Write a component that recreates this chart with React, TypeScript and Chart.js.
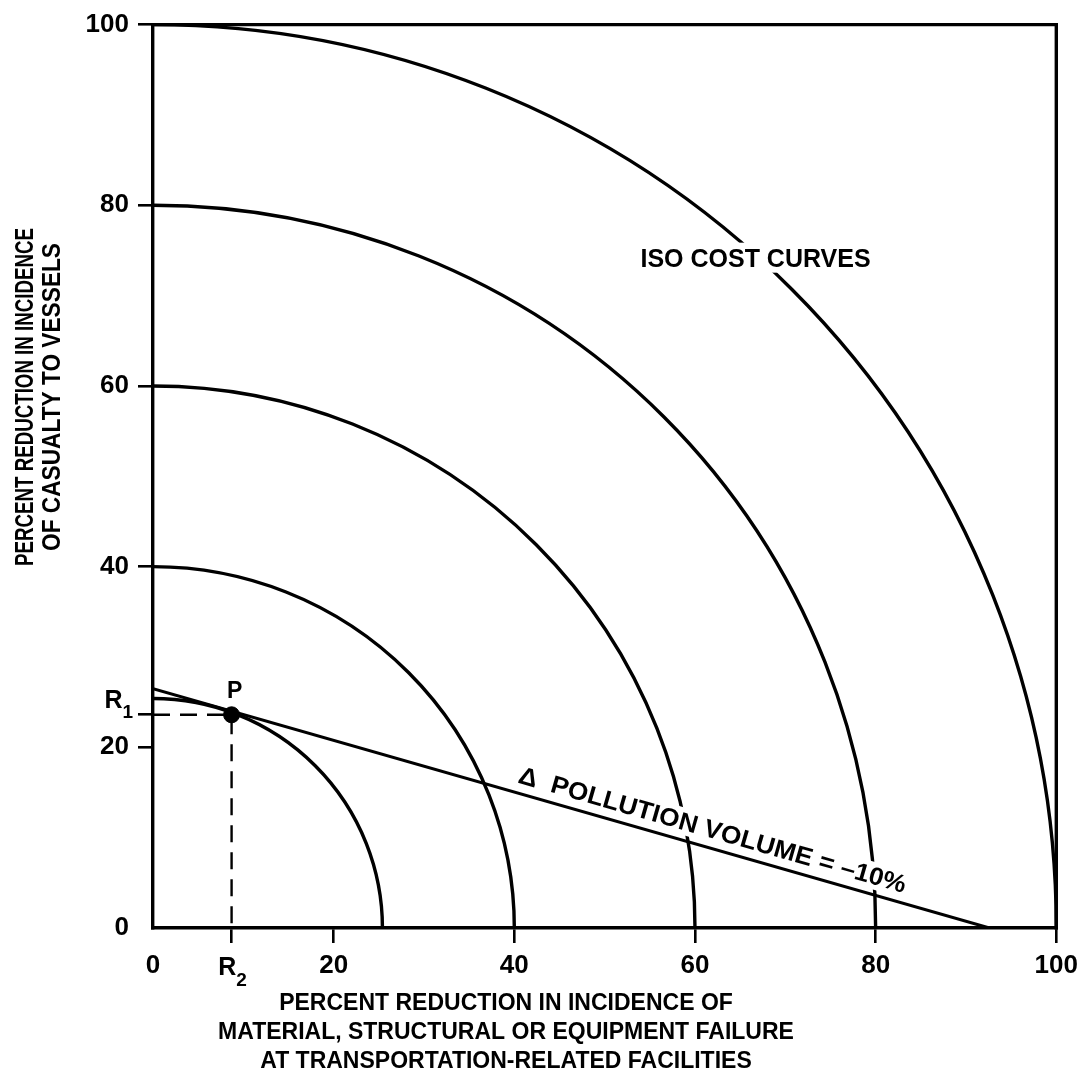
import React, { useEffect, useRef } from 'react';
import { Chart, registerables } from 'chart.js';

Chart.register(...registerables);

// ---- data ----
const isoCostRadii = [25.4, 40, 60, 80, 100];
const pollutionLineX = [0, 92.6];
const pollutionLineY = [26.5, 0];
const R2 = 8.7; // x of point P
const R1 = 23.6; // y of point P
const xTickValues = [0, 20, 40, 60, 80, 100];
const yTickValues = [0, 20, 40, 60, 80, 100];
const xTitleLines = [
  'PERCENT REDUCTION IN INCIDENCE OF',
  'MATERIAL, STRUCTURAL OR EQUIPMENT FAILURE',
  'AT TRANSPORTATION-RELATED FACILITIES',
];
const yTitleLines = ['PERCENT REDUCTION IN INCIDENCE', 'OF CASUALTY TO VESSELS'];
const curveLabel = 'ISO COST CURVES';
const lineLabel = 'Δ  POLLUTION VOLUME = –10%';
const pointLabel = 'P';

// ---- style / layout ----
const FONT = '"Liberation Sans", Arial, Helvetica, sans-serif';
const W = 1085;
const H = 1083;
const PLOT_LEFT = 153;
const PLOT_TOP = 24;
const PLOT_RIGHT = 1057;
const PLOT_BOTTOM = 928;

function drawText(ctx: CanvasRenderingContext2D, text: string, x: number, y: number, font: string, align: CanvasTextAlign, targetWidth?: number) {
  ctx.save();
  ctx.font = font;
  ctx.textAlign = 'left';
  ctx.textBaseline = 'alphabetic';
  const w = ctx.measureText(text).width;
  const sx = targetWidth ? targetWidth / w : 1;
  const drawnW = w * sx;
  let left = x;
  if (align === 'center') left = x - drawnW / 2;
  else if (align === 'right') left = x - drawnW;
  ctx.translate(left, y);
  ctx.scale(sx, 1);
  ctx.fillText(text, 0, 0);
  ctx.restore();
}

const overlayPlugin = {
  id: 'overlay',
  beforeDatasetsDraw(chart: any) {
    const { ctx, chartArea: a, scales } = chart;
    const x = scales.x;
    const y = scales.y;
    const cx = x.getPixelForValue(0);
    const cy = y.getPixelForValue(0);
    ctx.save();
    ctx.strokeStyle = '#000';
    ctx.lineWidth = 3.4;
    for (const r of isoCostRadii) {
      const rx = x.getPixelForValue(r) - cx;
      const ry = cy - y.getPixelForValue(r);
      ctx.beginPath();
      ctx.ellipse(cx, cy, rx, ry, 0, -Math.PI / 2, 0);
      ctx.stroke();
    }
    // frame: top and right
    ctx.lineWidth = 3.4;
    ctx.beginPath();
    ctx.moveTo(a.left - 1.7, a.top);
    ctx.lineTo(a.right, a.top);
    ctx.lineTo(a.right, a.bottom + 1.7);
    ctx.stroke();
    ctx.restore();
  },
  afterDatasetsDraw(chart: any) {
    const { ctx, scales } = chart;
    const x = scales.x;
    const y = scales.y;
    ctx.save();
    ctx.fillStyle = '#000';

    // ISO COST CURVES label with white background
    {
      const px = x.getPixelForValue(66.7);
      const py = y.getPixelForValue(74.2);
      ctx.font = `bold 25px ${FONT}`;
      const w = ctx.measureText(curveLabel).width;
      ctx.fillStyle = '#fff';
      ctx.fillRect(px - w / 2 - 4, py - 15, w + 8, 30);
      ctx.fillStyle = '#000';
      drawText(ctx, curveLabel, px, py + 9, `bold 25px ${FONT}`, 'center');
    }

    // Pollution line label, rotated along the line
    {
      const x0 = x.getPixelForValue(pollutionLineX[0]);
      const y0 = y.getPixelForValue(pollutionLineY[0]);
      const x1 = x.getPixelForValue(pollutionLineX[1]);
      const y1 = y.getPixelForValue(pollutionLineY[1]);
      const ang = Math.atan2(y1 - y0, x1 - x0);
      const sx = x.getPixelForValue(40);
      const t = (sx - x0) / (x1 - x0);
      const sy = y0 + t * (y1 - y0);
      ctx.save();
      ctx.translate(sx, sy);
      ctx.rotate(ang);
      const font = `bold 25px ${FONT}`;
      ctx.font = font;
      const target = 402;
      ctx.fillStyle = '#fff';
      ctx.fillRect(-4, -32, target + 8, 27);
      ctx.fillStyle = '#000';
      drawText(ctx, lineLabel, 0, -10, font, 'left', target);
      ctx.restore();
    }

    // P label
    drawText(ctx, pointLabel, x.getPixelForValue(R2) + 3, y.getPixelForValue(R1) - 17, `bold 23px ${FONT}`, 'center');

    // R1 label (left of y axis)
    {
      const ty = y.getPixelForValue(R1);
      ctx.font = `bold 25px ${FONT}`;
      const wR = ctx.measureText('R').width;
      ctx.font = `bold 19px ${FONT}`;
      const w1 = ctx.measureText('1').width;
      const right = PLOT_LEFT - 20;
      drawText(ctx, 'R', right - w1 - wR, ty - 7, `bold 25px ${FONT}`, 'left');
      drawText(ctx, '1', right - w1, ty + 3, `bold 19px ${FONT}`, 'left');
    }
    // R2 label (below x axis)
    {
      const tx = x.getPixelForValue(R2);
      ctx.font = `bold 25px ${FONT}`;
      const wR = ctx.measureText('R').width;
      ctx.font = `bold 19px ${FONT}`;
      const w2 = ctx.measureText('2').width;
      const left = tx - (wR + w2) / 2 + 1;
      drawText(ctx, 'R', left, 975, `bold 25px ${FONT}`, 'left');
      drawText(ctx, '2', left + wR, 986, `bold 19px ${FONT}`, 'left');
    }

    // X axis title
    const xc = 506;
    drawText(ctx, xTitleLines[0], xc, 1010, `bold 23px ${FONT}`, 'center');
    drawText(ctx, xTitleLines[1], xc, 1039, `bold 23px ${FONT}`, 'center');
    drawText(ctx, xTitleLines[2], xc, 1068, `bold 23px ${FONT}`, 'center');

    // Y axis title (rotated)
    ctx.save();
    ctx.rotate(-Math.PI / 2);
    drawText(ctx, yTitleLines[0], -397, 33, `bold 25px ${FONT}`, 'center', 338);
    drawText(ctx, yTitleLines[1], -397, 60, `bold 25px ${FONT}`, 'center', 308);
    ctx.restore();

    ctx.restore();
  },
};

export default function App() {
  const canvasRef = useRef<HTMLCanvasElement | null>(null);

  useEffect(() => {
    const canvas = canvasRef.current;
    if (!canvas) return;
    const black = '#000';
    const chart = new Chart(canvas, {
      type: 'scatter',
      data: {
        datasets: [
          {
            label: 'pollution',
            data: pollutionLineX.map((v, i) => ({ x: v, y: pollutionLineY[i] })),
            showLine: true,
            borderColor: black,
            borderWidth: 3,
            pointRadius: 0,
          },
          {
            label: 'dashed',
            data: [
              { x: 0, y: R1 },
              { x: R2, y: R1 },
              { x: R2, y: 0 },
            ],
            showLine: true,
            borderColor: black,
            borderWidth: 2.4,
            borderDash: [17, 10],
            pointRadius: 0,
          },
          {
            label: 'P',
            data: [{ x: R2, y: R1 }],
            pointRadius: 8,
            backgroundColor: black,
            borderColor: black,
          },
        ],
      },
      options: {
        responsive: false,
        animation: false,
        devicePixelRatio: 1,
        layout: { padding: { top: PLOT_TOP, right: W - PLOT_RIGHT, left: 0, bottom: 0 } },
        plugins: { legend: { display: false }, tooltip: { enabled: false } },
        scales: {
          x: {
            type: 'linear',
            min: 0,
            max: 100,
            afterFit: (s: any) => {
              s.height = H - PLOT_BOTTOM;
            },
            afterBuildTicks: (s: any) => {
              s.ticks = [...xTickValues, R2].sort((a, b) => a - b).map((v) => ({ value: v }));
            },
            border: { display: true, color: black, width: 3.4 },
            grid: {
              drawOnChartArea: false,
              drawTicks: true,
              tickLength: 15,
              lineWidth: 2.6,
              color: (c: any) => (c.tick && c.tick.value === 0 ? 'rgba(0,0,0,0)' : black),
            },
            ticks: {
              autoSkip: false,
              maxRotation: 0,
              padding: 7,
              color: black,
              font: { family: FONT, size: 26, weight: 'bold' },
              callback: (v: any) => (xTickValues.includes(Number(v)) ? String(v) : ''),
            },
          },
          y: {
            type: 'linear',
            min: 0,
            max: 100,
            afterFit: (s: any) => {
              s.width = PLOT_LEFT;
            },
            afterBuildTicks: (s: any) => {
              s.ticks = [...yTickValues, R1].sort((a, b) => a - b).map((v) => ({ value: v }));
            },
            border: { display: true, color: black, width: 3.4 },
            grid: {
              drawOnChartArea: false,
              drawTicks: true,
              tickLength: 15,
              lineWidth: 2.6,
              color: (c: any) => (c.tick && c.tick.value === 0 ? 'rgba(0,0,0,0)' : black),
            },
            ticks: {
              autoSkip: false,
              padding: 9,
              color: black,
              font: { family: FONT, size: 26, weight: 'bold' },
              callback: (v: any) => (yTickValues.includes(Number(v)) ? String(v) : ''),
            },
          },
        },
      },
      plugins: [overlayPlugin],
    });
    return () => chart.destroy();
  }, []);

  return (
    <div style={{ position: 'absolute', left: 0, top: 0, width: W, height: H, background: '#fff' }}>
      <canvas ref={canvasRef} width={W} height={H} style={{ display: 'block', width: W, height: H }} />
    </div>
  );
}
